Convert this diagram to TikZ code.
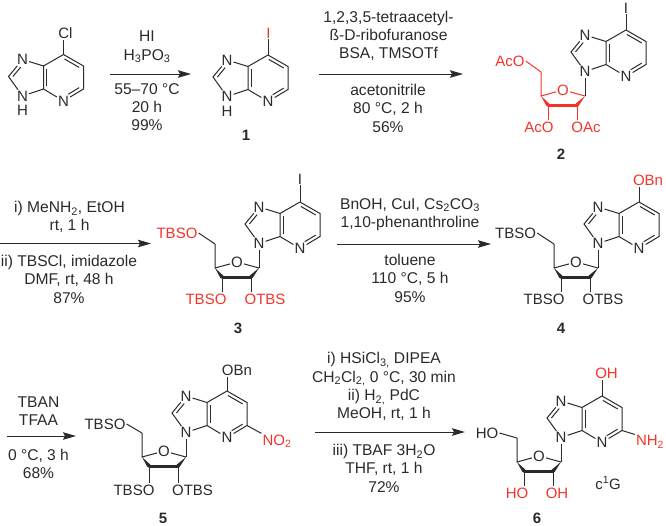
\documentclass[tikz,border=0pt]{standalone}
\usepackage{fontspec}
\setmainfont{Liberation Sans}
\usetikzlibrary{arrows.meta,calc,positioning}
\definecolor{ink}{HTML}{2A2A2A}
\definecolor{hl}{HTML}{F5332A}
\newcommand{\inbond}[3]{\draw[bond] ($(#1)!#3!(#2)!3.4pt!90:(#2)$) -- ($(#2)!.13!(#1)!3.4pt!-90:(#1)$);}
\newcommand{\wedgebond}[2]{\fill ($(#2)!1.9pt!90:(#1)$) -- (#1) -- ($(#2)!1.9pt!-90:(#1)$) -- cycle;}
\newcommand{\sub}[1]{\textsubscript{#1}}
\tikzset{
	bond/.style={line width=1pt},
	atom/.style={inner sep=1pt, font=\fontsize{15}{17}\selectfont},
	reag/.style={inner sep=0pt, align=center, font=\fontsize{15.6}{18.4}\selectfont},
	num/.style={inner sep=0pt, font=\fontsize{15}{17}\selectfont\bfseries},
	rxn/.style={line width=1pt, -{Stealth[length=13pt,width=7.5pt,inset=2pt]}},
	hot/.style={color=hl},
	pics/azaring/.style={code={
		\coordinate (-c7) at (0,0);
		\coordinate (-c6) at (20,11.5);
		\coordinate (-c5) at (20,34.5);
		\node[atom] (-n4) at (0,46.5) {N};
		\coordinate (-c3a) at (-20,34.5);
		\coordinate (-c7a) at (-20,11.5);
		\node[atom] (-n7) at (-41,5) {N};
		\coordinate (-c8) at (-55,22);
		\node[atom] (-n9) at (-41,41.5) {N};
		\draw[bond] (-c7) -- (-c6) -- (-c5) -- (-n4) -- (-c3a) -- (-c7a) -- (-c7);
		\draw[bond] (-c7a) -- (-n7) -- (-c8) -- (-n9) -- (-c3a);
		\inbond{-c6}{-c7}{.13}
		\inbond{-n4}{-c5}{.32}
		\inbond{-c7a}{-c3a}{.13}
		\inbond{-n7}{-c8}{.32}
	}},
	pics/ribose/.style={code={
		\coordinate (-c1r) at (-41,66);
		\node[atom] (-o4r) at (-63,60) {O};
		\coordinate (-c4r) at (-85,66);
		\coordinate (-c3r) at (-78,75);
		\coordinate (-c2r) at (-49,75);
		\coordinate (-c5r) at (-85,42);
		\draw[bond] (-c5r) -- (-c4r) -- (-o4r) -- (-c1r);
		\wedgebond{-c4r}{-c3r}
		\wedgebond{-c1r}{-c2r}
		\draw[line width=3pt, line cap=round] (-c3r) -- (-c2r);
	}}
}
\begin{document}
\begin{tikzpicture}[x=1pt,y=-1pt,color=ink]
	\useasboundingbox (0,0) rectangle (666,525);

	% first row
	\pic (m0) at (63.5,54.5) {azaring};
	\node[atom] (m0-x) at (65.5,33) {Cl};
	\node[atom, below=2pt of m0-n9] (m0-h) {H};
	\draw[bond] (m0-c7) -- (m0-x.south -| m0-c7);

	\pic (m1) at (268,55) {azaring};
	\node[atom, hl] (m1-x) at (268.5,33) {I};
	\node[atom, below=2pt of m1-n9] (m1-h) {H};
	\draw[bond] (m1-c7) -- (m1-x.south -| m1-c7);
	\node[num] (m1-num) at (246,135.5) {1};

	\pic (m2) at (626,30) {azaring};
	\node[atom] (m2-x) at (626,8) {I};
	\draw[bond] (m2-c7) -- (m2-x.south -| m2-c7);
	\begin{scope}[hot]
		\pic (m2) at (626,30) {ribose};
		\node[atom] (m2-o5) at (510,61) {AcO};
		\node[atom] (m2-o3) at (539,127) {AcO};
		\node[atom] (m2-o2) at (586,127) {OAc};
		\draw[bond] (m2-c5r) -- (m2-o5.east);
		\draw[bond] (m2-c3r) -- (m2-o3.north -| m2-c3r);
		\draw[bond] (m2-c2r) -- (m2-o2.north -| m2-c2r);
	\end{scope}
	\draw[bond] (m2-n9) -- (m2-c1r);
	\node[num] (m2-num) at (561,154) {2};

	% second row
	\pic (m3) at (300,202) {azaring};
	\pic (m3) at (300,202) {ribose};
	\node[atom] (m3-x) at (300,179) {I};
	\node[atom, hl] (m3-o5) at (177,233) {TBSO};
	\node[atom, hl] (m3-o3) at (206,299) {TBSO};
	\node[atom, hl] (m3-o2) at (265,299) {OTBS};
	\draw[bond] (m3-c7) -- (m3-x.south -| m3-c7);
	\draw[bond] (m3-n9) -- (m3-c1r);
	\draw[bond] (m3-c5r) -- (m3-o5.east);
	\draw[bond] (m3-c3r) -- (m3-o3.north -| m3-c3r);
	\draw[bond] (m3-c2r) -- (m3-o2.north -| m3-c2r);
	\node[num] (m3-num) at (238,328) {3};

	\pic (m4) at (639,202) {azaring};
	\pic (m4) at (639,202) {ribose};
	\node[atom, hl] (m4-x) at (648,180) {OBn};
	\node[atom] (m4-o5) at (515.5,233) {TBSO};
	\node[atom] (m4-o3) at (544,299) {TBSO};
	\node[atom] (m4-o2) at (603,299) {OTBS};
	\draw[bond] (m4-c7) -- (m4-x.south -| m4-c7);
	\draw[bond] (m4-n9) -- (m4-c1r);
	\draw[bond] (m4-c5r) -- (m4-o5.east);
	\draw[bond] (m4-c3r) -- (m4-o3.north -| m4-c3r);
	\draw[bond] (m4-c2r) -- (m4-o2.north -| m4-c2r);
	\node[num] (m4-num) at (561,328) {4};

	% third row
	\pic (m5) at (227,391) {azaring};
	\pic (m5) at (227,391) {ribose};
	\node[atom] (m5-x) at (237,370) {OBn};
	\node[atom, hl] (m5-y) at (277,441) {NO\sub{2}};
	\node[atom] (m5-o5) at (105,424) {TBSO};
	\node[atom] (m5-o3) at (134,490) {TBSO};
	\node[atom] (m5-o2) at (192.5,490) {OTBS};
	\draw[bond] (m5-c7) -- (m5-x.south -| m5-c7);
	\draw[bond] (m5-c5) -- (m5-y.north west);
	\draw[bond] (m5-n9) -- (m5-c1r);
	\draw[bond] (m5-c5r) -- (m5-o5.east);
	\draw[bond] (m5-c3r) -- (m5-o3.north -| m5-c3r);
	\draw[bond] (m5-c2r) -- (m5-o2.north -| m5-c2r);
	\node[num] (m5-num) at (163,518) {5};

	\pic (m6) at (602,396) {azaring};
	\pic (m6) at (602,396) {ribose};
	\node[atom, hl] (m6-x) at (606.5,373) {OH};
	\node[atom, hl] (m6-y) at (650,442) {NH\sub{2}};
	\node[atom] (m6-o5) at (487,433) {HO};
	\node[atom, hl] (m6-o3) at (517,493) {HO};
	\node[atom, hl] (m6-o2) at (557,493) {OH};
	\draw[bond] (m6-c7) -- (m6-x.south -| m6-c7);
	\draw[bond] (m6-c5) -- (m6-y.north west);
	\draw[bond] (m6-n9) -- (m6-c1r);
	\draw[bond] (m6-c5r) -- (m6-o5.east);
	\draw[bond] (m6-c3r) -- (m6-o3.north -| m6-c3r);
	\draw[bond] (m6-c2r) -- (m6-o2.north -| m6-c2r);
	\node[atom] (m6-name) at (608,483) {c\textsuperscript{1}G};
	\node[num] (m6-num) at (537,518) {6};

	% arrows
	\coordinate (a1s) at (110,74);
	\coordinate (a1e) at (191,74);
	\coordinate (a2s) at (319,74);
	\coordinate (a2e) at (463,74);
	\coordinate (a3s) at (0,243.5);
	\coordinate (a3e) at (151,243.5);
	\coordinate (a4s) at (337,244);
	\coordinate (a4e) at (491,244);
	\coordinate (a5s) at (7,436);
	\coordinate (a5e) at (76,436);
	\coordinate (a6s) at (315,432);
	\coordinate (a6e) at (465,432);
	\foreach \a in {a1,a2,a3,a4,a5,a6}
		\draw[rxn] (\a s) -- (\a e);

	% reagents
	\node[reag, anchor=south] (r1up) at (147,63) {HI\\H\sub{3}PO\sub{3}};
	\node[reag, anchor=north] (r1dn) at (147,83) {55–70 °C\\20 h\\99\%};
	\node[reag, anchor=south] (r2up) at (388.5,61) {1,2,3,5-tetraacetyl-\\ß-D-ribofuranose\\BSA, TMSOTf};
	\node[reag, anchor=north] (r2dn) at (388,84) {acetonitrile\\80 °C, 2 h\\56\%};
	\node[reag, anchor=south] (r3up) at (69.5,233) {i) MeNH\sub{2}, EtOH\\rt, 1 h};
	\node[reag, anchor=north] (r3dn) at (69,255) {ii) TBSCl, imidazole\\DMF, rt, 48 h\\87\%};
	\node[reag, anchor=south] (r4up) at (410,231) {BnOH, CuI, Cs\sub{2}CO\sub{3}\\1,10-phenanthroline};
	\node[reag, anchor=north] (r4dn) at (410,254) {toluene\\110 °C, 5 h\\95\%};
	\node[reag, anchor=south] (r5up) at (38.5,426) {TBAN\\TFAA};
	\node[reag, anchor=north] (r5dn) at (38.5,449) {0 °C, 3 h\\68\%};
	\node[reag, anchor=south] (r6up) at (384,421) {i) HSiCl\sub{3,} DIPEA\\CH\sub{2}Cl\sub{2,} 0 °C, 30 min\\ii) H\sub{2,} PdC\\MeOH, rt, 1 h};
	\node[reag, anchor=north] (r6dn) at (384,444) {iii) TBAF 3H\sub{2}O\\THF, rt, 1 h\\72\%};
\end{tikzpicture}
\end{document}
